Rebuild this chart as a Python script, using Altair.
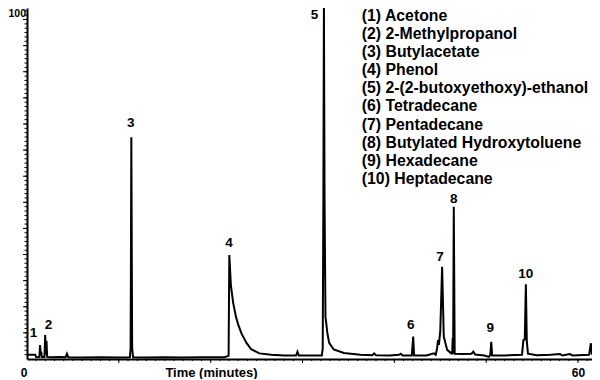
import altair as alt
import pandas as pd

# ---- chromatogram trace (minutes, relative abundance %) ----
times = [0.0, 0.9, 1.0, 1.35, 1.42, 1.5, 1.55, 1.62, 1.9, 1.98, 2.06, 2.12, 2.2,
         2.6, 3.5, 4.2, 4.35, 4.5, 6.0, 8.0, 10.0,
         11.2, 11.28, 11.31, 11.36, 11.42, 11.45, 11.55,
         13.0, 15.0, 17.0, 19.0, 21.5,
         21.95, 22.03, 22.2, 22.45, 22.75, 23.0, 23.35, 23.9, 24.4, 25.3, 26.6, 28.0,
         29.3, 29.45, 29.6, 31.0,
         32.1, 32.2, 32.27, 32.33, 32.4, 32.5, 32.7, 32.9, 33.4, 34.5, 36.3, 37.6, 37.8, 38.0,
         39.5, 40.5, 40.7, 40.9, 41.9, 42.05, 42.15, 43.5, 44.3, 44.5,
         44.65, 44.75, 44.85, 45.0, 45.2, 45.38, 45.75, 46.2, 46.3, 46.35, 46.4, 46.47, 46.57,
         47.5, 48.4, 48.6, 48.8, 49.8, 50.3, 50.45, 50.55, 50.65, 52.0,
         53.9, 54.05, 54.2, 54.32, 54.42, 54.55, 55.5, 57.0, 58.05, 58.3, 59.1, 59.4,
         61.2, 61.4, 61.5]
intens = [1.2, 1.2, 0.5, 0.6, 4.0, 1.5, 2.0, 0.6, 0.6, 6.8, 1.2, 5.2, 0.6,
          0.5, 0.6, 0.5, 1.5, 0.5, 0.4, 0.5, 0.4,
          0.5, 3.0, 22.0, 63.2, 22.0, 3.0, 0.5,
          0.4, 0.5, 0.4, 0.5, 0.5,
          0.9, 29.6, 21.0, 16.0, 12.0, 9.8, 7.3, 4.6, 2.8, 1.6, 1.2, 1.0,
          1.0, 2.1, 1.0, 1.0,
          1.0, 3.0, 45.0, 101.0, 45.0, 12.0, 7.5, 4.6, 2.7, 1.7, 1.2, 1.1, 1.6, 1.1,
          1.0, 1.2, 1.5, 1.0, 1.0, 6.4, 1.0, 1.0, 1.6, 1.2,
          3.0, 5.4, 4.0, 8.0, 26.3, 6.4, 2.6, 1.6, 1.6, 6.0, 1.6, 43.4, 1.5,
          1.4, 1.5, 2.1, 1.3, 1.0, 0.6, 1.2, 4.9, 1.0, 1.0,
          1.2, 5.4, 5.6, 21.3, 5.0, 1.5, 1.1, 1.2, 1.4, 1.0, 1.4, 1.0,
          1.2, 4.5, 1.2]

# ---- peak numbers and legend ----
peak_ids = ["1", "2", "3", "4", "5", "6", "7", "8", "9", "10"]
peak_label_t = [0.7, 2.35, 11.3, 22.0, 31.3, 41.78, 44.96, 46.47, 50.45, 54.32]
peak_label_h = [7.3, 9.7, 67.2, 33.0, 98.1, 9.7, 29.1, 45.5, 8.7, 24.2]
compounds = ["Acetone", "2-Methylpropanol", "Butylacetate", "Phenol",
             "2-(2-butoxyethoxy)-ethanol", "Tetradecane", "Pentadecane",
             "Butylated Hydroxytoluene", "Hexadecane", "Heptadecane"]
legend_entries = [f"({p}) {c}" for p, c in zip(peak_ids, compounds)]

# ---- axis ticks ----
x_major = [10, 20, 30, 40, 50, 60]
x_minor = list(range(1, 62))
y_major = [7.44, 14.88, 22.32, 29.76, 37.2, 44.64, 52.08, 59.52, 66.96, 74.4, 81.84, 89.28, 96.72]
y_minor = [round(1.24 * k, 2) for k in range(1, 81)]

XMAX = 61.52
FONT = "Liberation Sans"

trace = pd.DataFrame({"t": times, "h": intens})
labels = pd.DataFrame({"t": peak_label_t, "h": peak_label_h, "id": peak_ids,
                       "legend": legend_entries})

xs = alt.Scale(domain=[0, XMAX], nice=False, zero=False)
ys = alt.Scale(domain=[0, 100], nice=False, zero=False)

x_axis = alt.Axis(
    values=[0, 60], ticks=False, tickSize=0, grid=False, labelFlush=False,
    domainColor="black", domainWidth=2,
    labelFont=FONT, labelFontSize=12, labelFontWeight="bold", labelColor="black",
    labelPadding=8,
    labelAlign={"condition": {"test": "datum.value == 0", "value": "right"}, "value": "center"},
    title="Time (minutes)", titleX=184, titleY=7, titleBaseline="top",
    titleFont=FONT, titleFontSize=13, titleFontWeight="bold", titleColor="black")
y_axis = alt.Axis(
    values=[100], ticks=False, tickSize=0, grid=False, labelFlush=False,
    labelBaseline="top",
    domainColor="black", domainWidth=2,
    labelFont=FONT, labelFontSize=10.5, labelFontWeight="bold", labelColor="black",
    labelPadding=1.5, title=None)

X = lambda f: alt.X(f, scale=xs, axis=x_axis)
Y = lambda f: alt.Y(f, scale=ys, axis=y_axis)

line = alt.Chart(trace).mark_line(color="black", strokeWidth=2, clip=True).encode(
    x=X("t:Q"), y=Y("h:Q"))

xt_major = alt.Chart(pd.DataFrame({"v": x_major})).mark_rule(color="black", strokeWidth=1).encode(
    x=X("v:Q"), y=alt.value(351), y2=alt.value(355))
xt_minor = alt.Chart(pd.DataFrame({"v": x_minor})).mark_rule(color="black", strokeWidth=1).encode(
    x=X("v:Q"), y=alt.value(351), y2=alt.value(353))
yt_major = alt.Chart(pd.DataFrame({"v": y_major})).mark_rule(color="black", strokeWidth=1).encode(
    y=Y("v:Q"), x=alt.value(-4), x2=alt.value(0))
yt_minor = alt.Chart(pd.DataFrame({"v": y_minor})).mark_rule(color="black", strokeWidth=1).encode(
    y=Y("v:Q"), x=alt.value(-2.5), x2=alt.value(0))

peak_text = alt.Chart(labels).mark_text(
    font=FONT, fontSize=13.5, fontWeight="bold", align="center", baseline="middle"
).encode(
    x=X("t:Q"),
    y=Y("h:Q"),
    text="id:N",
    color=alt.Color("legend:N",
                    scale=alt.Scale(domain=legend_entries, range=["#000000"] * 10),
                    legend=alt.Legend(orient="none", legendX=319, legendY=0, title=None,
                                      symbolSize=0, symbolStrokeWidth=0, symbolOpacity=0,
                                      labelFont=FONT, labelFontSize=15.8, labelFontWeight="bold",
                                      labelColor="black", labelOffset=0, labelLimit=0,
                                      rowPadding=1.1, padding=0)),
)

chart = alt.layer(line, yt_minor, yt_major, xt_minor, xt_major, peak_text).properties(
    width=565, height=351,
    padding={"left": 19, "top": 0, "right": 0, "bottom": 20},
    autosize=alt.AutoSizeParams(type="none"),
    background="white",
).configure_view(stroke=None)

chart.save("out.html", embed_options={"renderer": "svg", "actions": False})
